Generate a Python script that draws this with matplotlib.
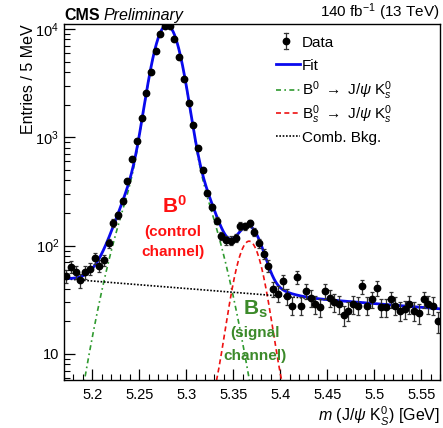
# ============================================================
# plot.py — B0 / Bs -> J/psi K0s invariant mass fit (CMS style)
# ============================================================

import numpy as np
import matplotlib
matplotlib.use("Agg")
import matplotlib.pyplot as plt
from matplotlib.ticker import FixedLocator, FixedFormatter, MultipleLocator, LogLocator, NullFormatter

plt.rcParams['font.family'] = ['Liberation Sans', 'DejaVu Sans']
plt.rcParams['mathtext.fontset'] = 'custom'
plt.rcParams['mathtext.rm'] = 'Liberation Sans'
plt.rcParams['mathtext.it'] = 'Liberation Sans:italic'
plt.rcParams['mathtext.bf'] = 'Liberation Sans:bold'

# ------------------------------------------------------------
# DATA — entries per 5 MeV bin
# ------------------------------------------------------------
mass_lo = 5.17
mass_hi = 5.57
bin_width = 0.005

bin_centers = np.arange(80) * bin_width + mass_lo + bin_width / 2
entries = [
    52, 64, 57, 48, 57, 61, 77, 65, 73, 106,
    162, 190, 261, 394, 625, 924, 1520, 2550, 4030, 6220,
    8990, 10600, 10600, 8070, 5470, 3490, 2070, 1290, 803, 498,
    305, 227, 170, 123, 112, 111, 118, 153, 151, 161,
    134, 105, 84, 65, 40, 36, 47, 34, 28, 51,
    28, 38, 33, 29, 27, 38, 33, 30, 29, 23,
    25, 29, 28, 42, 28, 32, 41, 27, 27, 32,
    28, 25, 26, 29, 25, 24, 32, 29, 28, 20,
]

# fit parameters (estimated from the drawn curves)
b0_mass = 5.2795
bs_mass = 5.3669
sigma_core = 0.0120
sigma_tail = 0.0276
tail_frac = 0.0826
b0_amp = 10830
bs_amp = 110
bkg_at_lo = 49.5
bkg_slope = -1.6

tick_labels_y = ['10', r'$10^2$', r'$10^3$', r'$10^4$']
legend_labels = [
    'Data',
    'Fit',
    r'B$^0$ $\rightarrow$ J/$\psi$ K$^0_s$',
    r'B$^0_s$ $\rightarrow$ J/$\psi$ K$^0_s$',
    'Comb. Bkg.',
]


def peak_shape(m, mu):
    d = m - mu
    core = np.exp(-d ** 2 / (2 * sigma_core ** 2))
    tail = np.exp(-d ** 2 / (2 * sigma_tail ** 2))
    return (1 - tail_frac) * core + tail_frac * tail


m = np.linspace(mass_lo, mass_hi, 1200)
b0_curve = b0_amp * peak_shape(m, b0_mass)
bs_curve = bs_amp * peak_shape(m, bs_mass)
bkg_curve = bkg_at_lo * np.exp(bkg_slope * (m - mass_lo))
fit_curve = b0_curve + bs_curve + bkg_curve

entries = np.array(entries, dtype=float)
errors = np.sqrt(entries)

# ------------------------------------------------------------
# PLOT
# ------------------------------------------------------------
fig = plt.figure(figsize=(4.43, 4.28), dpi=100)
ax = fig.add_axes([64 / 443, 1 - 380 / 428, 376 / 443, 356 / 428])

blue = '#0a0aee'
green = '#2f9a2f'
red_line = '#ee1111'
styles = [
    dict(color=green, lw=1.2, linestyle=(0, (3, 2, 1, 2))),
    dict(color=red_line, lw=1.2, linestyle=(0, (3, 2))),
    dict(color='black', lw=1.2, linestyle=(0, (1, 1))),
]

ax.plot(m, b0_curve, **styles[0])
ax.plot(m, bs_curve, **styles[1])
ax.plot(m, bkg_curve, **styles[2])
ax.plot(m, fit_curve, color=blue, lw=2)
ax.errorbar(bin_centers, entries, yerr=errors, fmt='o', color='black',
            ms=4.6, ecolor='#333333', elinewidth=0.9, capsize=1.5, capthick=0.9)

ax.set_yscale('log')
ax.set_xlim(mass_lo, mass_hi)
ax.set_ylim(5.75, 11120)

ax.xaxis.set_major_locator(MultipleLocator(0.05))
ax.xaxis.set_minor_locator(MultipleLocator(0.01))
ax.set_xticks([5.2, 5.25, 5.3, 5.35, 5.4, 5.45, 5.5, 5.55])
ax.set_xticklabels(['5.2', '5.25', '5.3', '5.35', '5.4', '5.45', '5.5', '5.55'])
ax.yaxis.set_major_locator(FixedLocator([10, 100, 1000, 10000]))
ax.yaxis.set_major_formatter(FixedFormatter(tick_labels_y))
ax.yaxis.set_minor_locator(LogLocator(base=10, subs=np.arange(2, 10)))
ax.yaxis.set_minor_formatter(NullFormatter())

ax.tick_params(which='both', direction='in', labelsize=10.5, top=False, right=False)
ax.tick_params(which='major', length=8, width=0.9)
ax.tick_params(which='minor', length=4, width=0.8)
ax.tick_params(axis='x', pad=6)
for s in ax.spines.values():
    s.set_linewidth(1.0)

ax.set_ylabel('Entries / 5 MeV', fontsize=11.5, loc='top', labelpad=-0.5)
ax.set_xlabel(r'$m$ (J/$\psi$ K$^0_S$) [GeV]', fontsize=11.5, loc='right', labelpad=2)

# header
ax.text(0.0, 1.004, 'CMS', transform=ax.transAxes, fontsize=11.5,
        fontweight='bold', ha='left', va='bottom')
ax.text(0.104, 1.004, 'Preliminary', transform=ax.transAxes, fontsize=11.5,
        style='italic', ha='left', va='bottom')
ax.text(1.0, 1.004, r'140 fb$^{-1}$ (13 TeV)', transform=ax.transAxes,
        fontsize=11, ha='right', va='bottom')

# channel annotations
red = '#ff1111'
ax.text(5.288, 200, r'$\mathbf{B^0}$', color=red, fontsize=15,
        ha='center', va='baseline')
ax.text(5.286, 134, '(control', color=red, fontsize=11,
        fontweight='bold', ha='center', va='center')
ax.text(5.286, 87.5, 'channel)', color=red, fontsize=11,
        fontweight='bold', ha='center', va='center')
bs_green = '#3c8a2a'
ax.text(5.3735, 23, r'$\mathbf{B_s}$', color=bs_green, fontsize=15,
        ha='center', va='baseline')
ax.text(5.373, 15.6, '(signal', color=bs_green, fontsize=11,
        fontweight='bold', ha='center', va='center')
ax.text(5.373, 9.6, 'channel)', color=bs_green, fontsize=11,
        fontweight='bold', ha='center', va='center')

# ------------------------------------------------------------
# LEGEND — drawn by hand so the row pitch matches the original
# ------------------------------------------------------------
tr = ax.transAxes
row_y = [0.9522, 0.8876, 0.8160, 0.7500, 0.6854]
h_x0, h_x1, h_mid, txt_x = 0.5638, 0.6277, 0.5904, 0.633

# data: marker + error bar with caps
ax.plot([h_mid, h_mid], [row_y[0] - 0.0225, row_y[0] + 0.0225], color='#333333',
        lw=0.9, transform=tr, clip_on=False)
for dy in (-0.0225, 0.0225):
    ax.plot([h_mid - 0.005, h_mid + 0.005], [row_y[0] + dy] * 2, color='#333333',
            lw=0.9, transform=tr, clip_on=False)
ax.plot([h_mid], [row_y[0]], 'o', color='black', ms=4.6, transform=tr, clip_on=False)
# fit and components
ax.plot([h_x0, h_x1], [row_y[1]] * 2, color=blue, lw=2, transform=tr)
for i, st in enumerate(styles):
    ax.plot([h_x0, h_x1], [row_y[i + 2]] * 2, transform=tr, **st)

for y, lab in zip(row_y, legend_labels):
    ax.text(txt_x, y - 0.0160, lab, transform=tr, fontsize=11,
            ha='left', va='baseline')

fig.savefig('out.png', dpi=100)
